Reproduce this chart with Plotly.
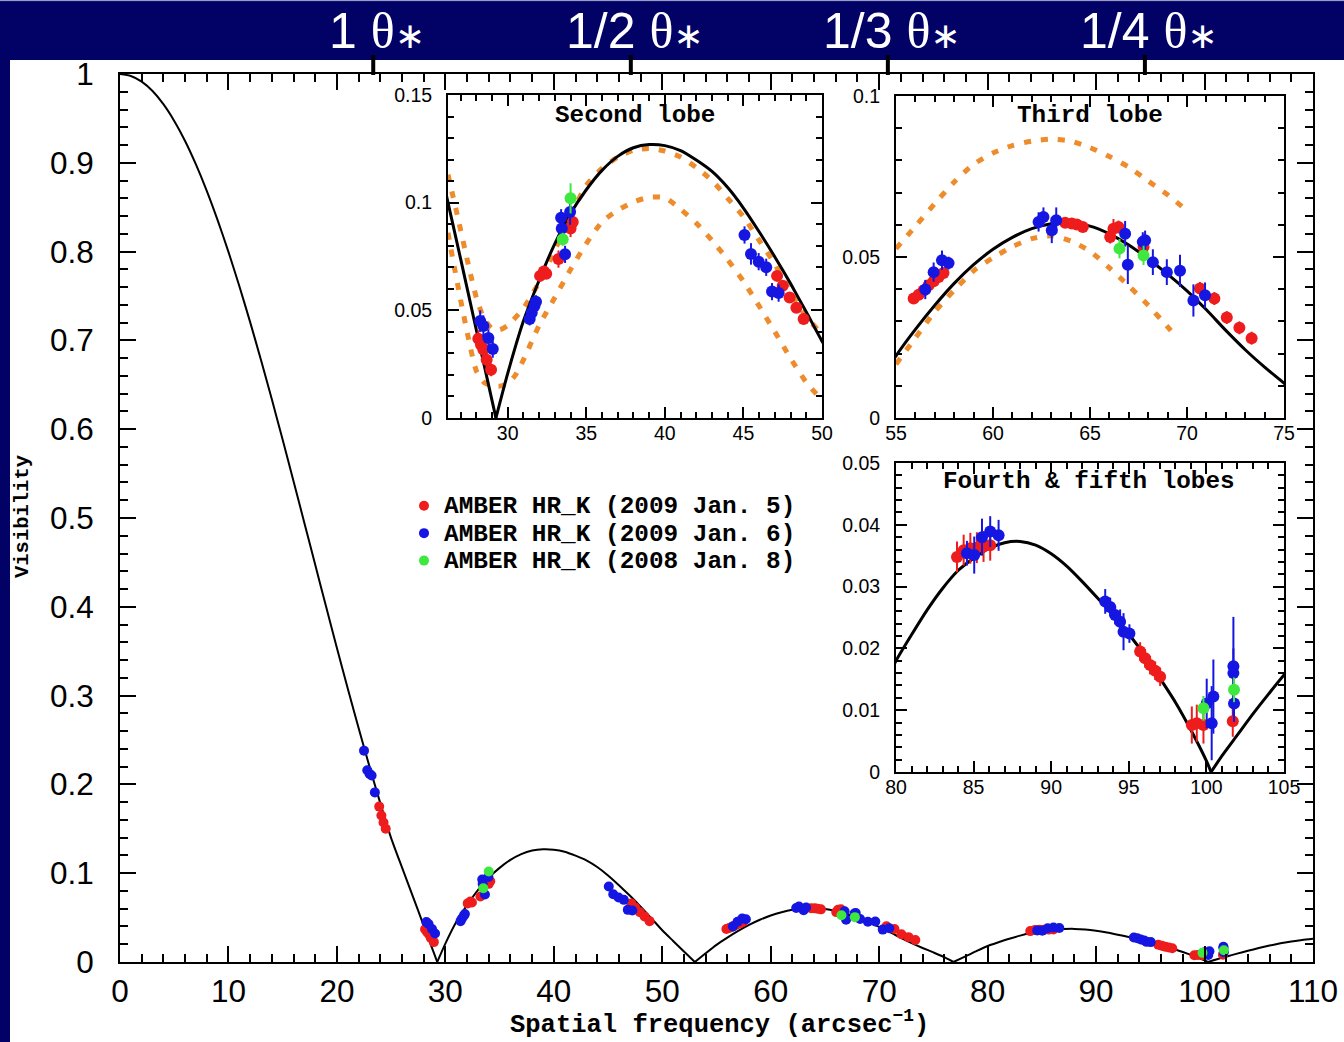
import plotly.graph_objects as go

W, H = 1344, 1042


def fx(px):
    return px / W


def fy(py):
    return 1 - py / H


NAVY = "#020266"
RED = "#ee1c1c"
BLUE = "#1616e2"
GREEN = "#3ee83e"
ORANGE = "#ee8c2c"

# ---------------- model visibility curve (black), one list per lobe
lobe1_x = [0, 1, 2, 3, 4, 5, 6, 7, 8, 9, 10, 11, 12, 13, 14, 15, 16, 17, 18, 19, 20,
           21, 22, 23, 24, 25, 26, 27, 28, 29, 29.25]
lobe1_y = [1.0, 0.9978, 0.9914, 0.9808, 0.966, 0.9472, 0.9246, 0.8982, 0.8685, 0.8355,
           0.7997, 0.7613, 0.7206, 0.6779, 0.6336, 0.588, 0.5415, 0.4945, 0.4473, 0.4002,
           0.3537, 0.308, 0.2635, 0.2203, 0.1789, 0.1395, 0.1065, 0.074, 0.041, 0.0082, 0.0]
lobe2_x = [29.25, 30, 31, 32, 33, 34, 35, 36, 37, 38, 39, 40, 41, 42, 43, 44, 45, 46, 47,
           48, 49, 50, 51, 52, 53]
lobe2_y = [0.0, 0.0207, 0.045, 0.064, 0.081, 0.095, 0.106, 0.115, 0.1215, 0.1255, 0.127,
           0.1265, 0.1242, 0.1198, 0.1145, 0.107, 0.0975, 0.0865, 0.0748, 0.0624, 0.0492,
           0.0357, 0.0237, 0.0118, 0.0]
lobe3_x = [53, 54, 55, 56, 57, 58, 59, 60, 61, 62, 63, 64, 65, 66, 67, 68, 69, 70, 71, 72,
           73, 74, 75, 76, 76.85]
lobe3_y = [0.0, 0.0098, 0.0193, 0.0275, 0.035, 0.0418, 0.0476, 0.0524, 0.0561, 0.0588,
           0.0603, 0.0606, 0.0596, 0.0572, 0.0537, 0.0494, 0.0447, 0.0395, 0.0336, 0.0272,
           0.0212, 0.0158, 0.0108, 0.0055, 0.0]
lobe4_x = [76.85, 78, 79, 80, 81, 82, 83, 84, 85, 86, 87, 88, 89, 90, 91, 92, 93, 94, 95,
           96, 97, 98, 99, 100, 100.3]
lobe4_y = [0.0, 0.0066, 0.0125, 0.018, 0.0222, 0.0262, 0.0297, 0.0326, 0.0346, 0.0362,
           0.0371, 0.0373, 0.0367, 0.0353, 0.0333, 0.0308, 0.0281, 0.0253, 0.0223, 0.019,
           0.0152, 0.0113, 0.0068, 0.0018, 0.0]
lobe5_x = [100.3, 101, 102, 103, 104, 105, 106, 107, 108, 109, 110]
lobe5_y = [0.0, 0.0026, 0.006, 0.0094, 0.0126, 0.0157, 0.0185, 0.021, 0.0231, 0.0249, 0.0263]

# ---------------- alternative models (orange dotted) in the insets
o1_x = [26.2, 26.5, 26.8, 27.5, 28, 28.5, 29, 29.5, 30, 31, 32, 33, 34, 35, 36, 37, 38, 39,
        40, 41, 42, 43, 44, 45, 46, 47, 48, 49, 50]
o1_y = [0.113, 0.1035, 0.094, 0.071, 0.056, 0.046, 0.0415, 0.041, 0.043, 0.051, 0.063,
        0.078, 0.094, 0.108, 0.1159, 0.1212, 0.1243, 0.1252, 0.124, 0.1212, 0.1163, 0.1103,
        0.102, 0.0935, 0.0825, 0.0715, 0.0585, 0.047, 0.039]
o2_x = [26.2, 26.5, 27, 27.5, 28, 28.5, 29, 29.5, 30, 30.5, 31, 32, 33, 34, 35, 36, 37, 38,
        39, 40, 41, 42, 43, 44, 45, 46, 47, 48, 49, 50]
o2_y = [0.086, 0.074, 0.055, 0.037, 0.022, 0.0165, 0.015, 0.0148, 0.016, 0.02, 0.027, 0.043,
        0.056, 0.069, 0.081, 0.091, 0.0965, 0.1003, 0.1025, 0.1023, 0.097, 0.0905, 0.0825,
        0.0735, 0.0635, 0.052, 0.04, 0.0277, 0.0165, 0.0084]
o3_x = [55, 56, 57, 58, 59, 60, 61, 62, 63, 64, 65, 66, 67, 68, 69, 69.8]
o3_y = [0.0526, 0.0595, 0.0666, 0.0733, 0.0788, 0.0823, 0.0846, 0.086, 0.0866, 0.086,
        0.084, 0.0812, 0.0779, 0.0736, 0.0693, 0.0654]
o4_x = [55, 56, 57, 58, 59, 60, 61, 62, 63, 64, 65, 66, 67, 68, 69, 69.3]
o4_y = [0.0167, 0.0249, 0.033, 0.0397, 0.0457, 0.0498, 0.0532, 0.0557, 0.0566, 0.055,
        0.0518, 0.0466, 0.041, 0.035, 0.0283, 0.0262]

# ---------------- AMBER HR_K measurements
red_x = [23.9, 24.1, 24.3, 24.5,
         28.13, 28.3, 28.45, 28.66, 28.94,
         32.06, 32.3, 32.45, 33.23, 34.0, 34.14,
         47.14, 47.5, 47.94, 48.37, 48.83,
         55.91, 56.17, 56.42, 56.68, 56.94, 57.2, 57.45,
         63.72, 64.06, 64.32, 64.63,
         66.04, 66.21, 66.47, 67.76,
         70.67, 71.41, 72.05, 72.7, 73.33,
         83.93, 84.36, 84.79, 85.21, 85.64, 86.07,
         95.73, 96.05, 96.37, 96.7, 97.02,
         99.06, 99.38, 99.81, 101.7]
red_y = [0.175, 0.165, 0.157, 0.150,
         0.0368, 0.034, 0.0318, 0.027, 0.0224,
         0.066, 0.068, 0.067, 0.0738, 0.088, 0.091,
         0.066, 0.0614, 0.056, 0.0512, 0.046,
         0.0371, 0.0383, 0.0396, 0.0412, 0.0425, 0.0438, 0.045,
         0.0606, 0.0604, 0.0601, 0.0593,
         0.0562, 0.0588, 0.0593, 0.0531,
         0.0402, 0.0371, 0.0312, 0.028, 0.0248,
         0.0348, 0.0359, 0.0362, 0.0363, 0.0365, 0.0367,
         0.0195, 0.0184, 0.0173, 0.0164, 0.0154,
         0.0076, 0.0079, 0.0076, 0.0082]
red_e = [0.003, 0.003, 0.003, 0.003,
         0.004, 0.004, 0.004, 0.004, 0.003,
         0.002, 0.002, 0.002, 0.004, 0.004, 0.003,
         0.002, 0.002, 0.002, 0.002, 0.002,
         0.0015, 0.0015, 0.0015, 0.0015, 0.0015, 0.0015, 0.0015,
         0.0015, 0.0015, 0.0015, 0.0015,
         0.002, 0.003, 0.002, 0.002,
         0.002, 0.002, 0.002, 0.002, 0.002,
         0.0025, 0.0025, 0.0025, 0.0025, 0.0025, 0.0025,
         0.0015, 0.0015, 0.0015, 0.0015, 0.0015,
         0.003, 0.003, 0.003, 0.0025]

blue_x = [22.5, 22.8, 23.0, 23.2, 23.5,
          28.25, 28.45, 28.77, 29.05,
          31.4, 31.53, 31.7, 31.8, 33.4, 33.44, 33.65, 33.97,
          45.07, 45.48, 45.97, 46.45, 46.82, 47.24,
          56.51, 56.94, 57.37, 57.71,
          62.35, 62.6, 63.03, 63.26,
          66.81, 66.95, 67.72, 67.84, 68.24, 68.96, 69.64, 70.33, 70.93,
          84.57, 85.04, 85.54, 86.07, 86.61,
          93.48, 93.8, 94.12, 94.44, 94.66, 95.04,
          100.02, 100.34, 100.45, 101.74, 101.74, 101.78]
blue_y = [0.238, 0.216, 0.212, 0.21, 0.191,
          0.045, 0.0427, 0.0372, 0.032,
          0.046, 0.0489, 0.052, 0.054, 0.093, 0.088, 0.076, 0.0957,
          0.085, 0.0762, 0.0726, 0.070, 0.0587, 0.058,
          0.0399, 0.0453, 0.049, 0.0481,
          0.0609, 0.0624, 0.0583, 0.0614,
          0.0572, 0.0476, 0.0547, 0.0552, 0.0484, 0.0453, 0.0457, 0.0365, 0.0381,
          0.0354, 0.0351, 0.038, 0.0389, 0.0383,
          0.0276, 0.0267, 0.0254, 0.0243, 0.0227, 0.0224,
          0.0111, 0.0079, 0.0122, 0.0171, 0.016, 0.0111]
blue_e = [0.003, 0.003, 0.003, 0.003, 0.003,
          0.005, 0.005, 0.004, 0.004,
          0.003, 0.003, 0.003, 0.003, 0.004, 0.004, 0.004, 0.006,
          0.004, 0.005, 0.004, 0.004, 0.004, 0.004,
          0.003, 0.003, 0.003, 0.002,
          0.003, 0.003, 0.004, 0.004,
          0.004, 0.006, 0.003, 0.003, 0.004, 0.004, 0.005, 0.005, 0.004,
          0.002, 0.003, 0.003, 0.0025, 0.0025,
          0.002, 0.0015, 0.0015, 0.002, 0.003, 0.0015,
          0.004, 0.006, 0.006, 0.008, 0.004, 0.003]

green_x = [33.5, 34.0, 66.52, 67.76, 99.81, 101.78]
green_y = [0.083, 0.102, 0.0526, 0.0505, 0.0103, 0.0133]
green_e = [0.003, 0.007, 0.003, 0.003, 0.002, 0.002]

legend_names = ["AMBER HR_K (2009 Jan. 5)", "AMBER HR_K (2009 Jan. 6)",
                "AMBER HR_K (2008 Jan. 8)"]
series = [
    (legend_names[0], red_x, red_y, red_e, RED),
    (legend_names[1], blue_x, blue_y, blue_e, BLUE),
    (legend_names[2], green_x, green_y, green_e, GREEN),
]

# top-axis markers: 1, 1/2, 1/3, 1/4 of the stellar diameter (spatial frequency)
theta_pos = [23.35, 47.1, 70.8, 94.5]
theta_lbl = ["1", "1/2", "1/3", "1/4"]

inset_titles = ["Second lobe", "Third lobe", "Fourth &amp; fifth lobes"]


def join(xs_list, ys_list):
    X, Y = [], []
    for xs, ys in zip(xs_list, ys_list):
        if X:
            X.append(None)
            Y.append(None)
        X += xs
        Y += ys
    return X, Y


MX, MY = join([lobe1_x, lobe2_x, lobe3_x, lobe4_x, lobe5_x],
              [lobe1_y, lobe2_y, lobe3_y, lobe4_y, lobe5_y])

fig = go.Figure()

orange_sets = {"2": [(o1_x, o1_y), (o2_x, o2_y)], "3": [(o3_x, o3_y), (o4_x, o4_y)], "4": []}

LEG_TXT = 24.4
panels = [("", 2, 10, False), ("2", 3, 12, True), ("3", 3, 12, True), ("4", 3, 12, True)]
for sfx, lw, ms, show_err in panels:
    xa, ya = "x" + sfx, "y" + sfx
    for ox, oy in orange_sets.get(sfx, []):
        fig.add_trace(go.Scatter(x=ox, y=oy, mode="lines", xaxis=xa, yaxis=ya,
                                 line=dict(color=ORANGE, width=5, dash="7px,10px",
                                           shape="spline", smoothing=0.6),
                                 showlegend=False, hoverinfo="skip"))
    fig.add_trace(go.Scatter(x=MX, y=MY, mode="lines", xaxis=xa, yaxis=ya,
                             line=dict(color="black", width=lw, shape="spline", smoothing=0.6),
                             showlegend=False, hoverinfo="skip"))
    for name, sx, sy, se, col in series:
        fig.add_trace(go.Scatter(
            x=sx, y=sy, mode="markers", xaxis=xa, yaxis=ya,
            name="<span style='font-size:%spx'>%s</span>" % (LEG_TXT, name),
            marker=dict(color=col, size=ms, line=dict(width=0)),
            error_y=dict(type="data", array=se, visible=show_err, color=col,
                         thickness=2, width=0),
            showlegend=(sfx == ""), hoverinfo="x+y",
        ))


def axis(domain, rng, dtick, mdtick, tlen, mlen, fsize, anchor, standoff):
    return dict(domain=domain, range=rng, anchor=anchor, dtick=dtick, tick0=0,
                automargin=False,
                showline=True, linecolor="black", linewidth=2, mirror="ticks",
                ticks="inside", ticklen=tlen, tickwidth=2, tickcolor="black",
                minor=dict(dtick=mdtick, tick0=0, ticks="inside", ticklen=mlen,
                           tickwidth=2, tickcolor="black", showgrid=False),
                showgrid=False, zeroline=False, fixedrange=True,
                tickfont=dict(family="Liberation Sans", size=fsize, color="black"),
                ticklabelstandoff=standoff)


layout = dict(
    width=W, height=H, margin=dict(l=0, r=0, t=0, b=0, pad=0, autoexpand=False),
    paper_bgcolor="white", plot_bgcolor="white",
    xaxis=axis([fx(120), fx(1313)], [0, 110], 10, 2, 16, 8, 31.5, "y", 0),
    yaxis=axis([fy(962), fy(74)], [0, 1], 0.1, 0.02, 16, 8, 31.5, "x", 18),
    xaxis2=axis([fx(448), fx(822)], [26.2, 50], 5, 1, 11, 6, 19.5, "y2", -3),
    yaxis2=axis([fy(418), fy(95)], [0, 0.15], 0.05, 0.01, 11, 6, 19.5, "x2", 10),
    xaxis3=axis([fx(896), fx(1284)], [55, 75], 5, 1, 11, 6, 19.5, "y3", -3),
    yaxis3=axis([fy(418), fy(96)], [0, 0.1], 0.05, 0.01, 11, 6, 19.5, "x3", 10),
    xaxis4=axis([fx(896), fx(1284)], [80, 105], 5, 1, 11, 6, 19.5, "y4", -3),
    yaxis4=axis([fy(772), fy(463)], [0, 0.05], 0.01, 0.002, 11, 6, 19.5, "x4", 10),
    legend=dict(x=fx(404), y=fy(487), xanchor="left", yanchor="top",
                bgcolor="rgba(0,0,0,0)", borderwidth=0,
                font=dict(family="Liberation Mono", size=18.8, color="black", weight="bold")),
    showlegend=True,
)
fig.update_layout(**layout)

shapes = [
    dict(type="rect", xref="paper", yref="paper", x0=0, x1=1, y0=fy(60), y1=1,
         fillcolor=NAVY, line=dict(width=0), layer="below"),
    dict(type="rect", xref="paper", yref="paper", x0=0, x1=fx(10), y0=0, y1=1,
         fillcolor=NAVY, line=dict(width=0), layer="below"),
    dict(type="line", xref="paper", yref="paper", x0=0, x1=1, y0=fy(0.6), y1=fy(0.6),
         line=dict(color="#a8acd0", width=1)),
]
for tp in theta_pos:
    shapes.append(dict(type="line", xref="x", yref="paper", x0=tp, x1=tp,
                       y0=fy(75), y1=fy(55), line=dict(color="black", width=4)))
fig.update_layout(shapes=shapes)

ann = []
for tp, tl in zip(theta_pos, theta_lbl):
    ann.append(dict(
        x=tp, xref="x", y=fy(31), yref="paper", xshift=4, showarrow=False,
        xanchor="center", yanchor="middle",
        text=tl + " <span style='font-family:Liberation Serif'>θ</span>"
                  "<span style='font-family:DejaVu Sans;font-size:36px'>∗</span>",
        font=dict(family="Liberation Sans", size=50, color="white")))

title_pos = [(635, 116), (1090, 116), (1089, 482)]
for t, (px, py) in zip(inset_titles, title_pos):
    ann.append(dict(x=fx(px), y=fy(py), xref="paper", yref="paper", showarrow=False,
                    xanchor="center", yanchor="middle", text=t,
                    font=dict(family="Liberation Mono", size=24.3, color="black",
                              weight="bold")))

ann.append(dict(x=fx(22), y=fy(517), xref="paper", yref="paper", showarrow=False,
                xanchor="center", yanchor="middle", textangle=-90, text="Visibility",
                font=dict(family="Liberation Mono", size=20.5, color="black",
                          weight="bold")))
ann.append(dict(x=fx(719), y=fy(1041), xref="paper", yref="paper", showarrow=False,
                xanchor="center", yanchor="bottom", borderpad=0,
                text="Spatial frequency (arcsec<sup>−1</sup>)",
                font=dict(family="Liberation Mono", size=25.5, color="black",
                          weight="bold")))
fig.update_layout(annotations=ann)

fig.write_html("out.html")
